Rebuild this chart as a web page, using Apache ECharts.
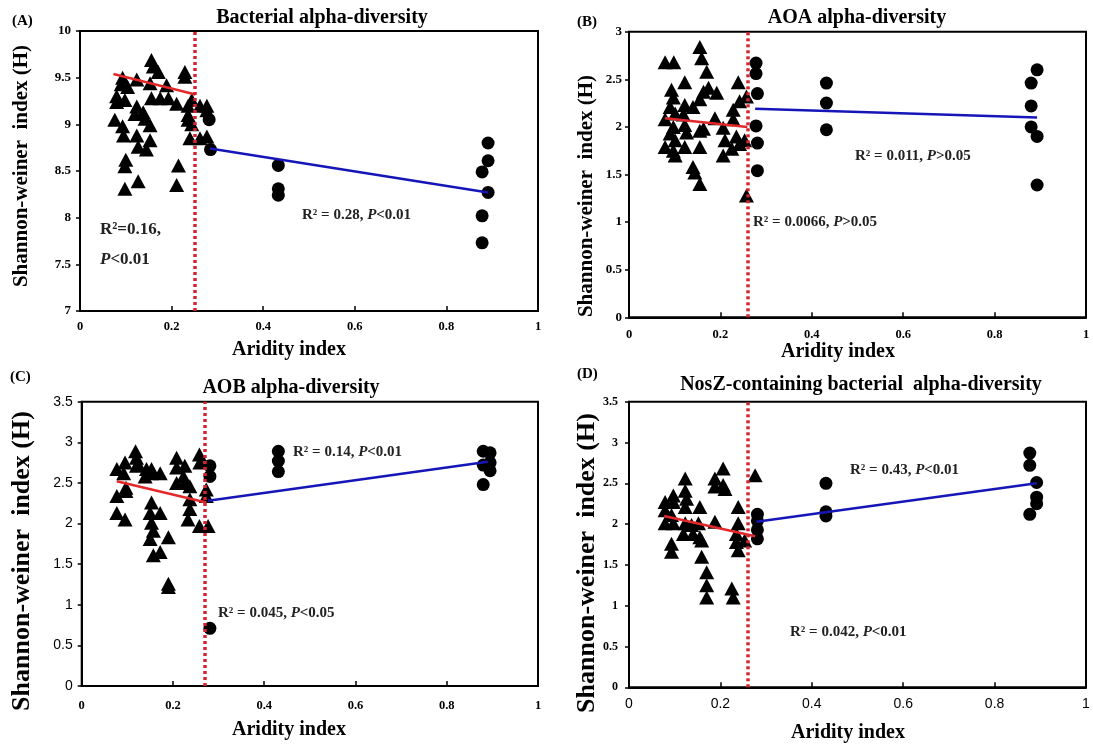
<!DOCTYPE html>
<html>
<head>
<meta charset="utf-8">
<script src="https://cdn.jsdelivr.net/npm/echarts@6/dist/echarts.min.js"></script>
<style>
html,body{margin:0;padding:0;background:#fff;}
#chart{width:1093px;height:749px;}
</style>
</head>
<body>
<div id="chart"></div>
<script>
// ---------- DATA ----------
const xTicks = ['0', '0.2', '0.4', '0.6', '0.8', '1'];
const panelLetters = ['(A)', '(B)', '(C)', '(D)'];
const panelTitles = ['Bacterial alpha-diversity', 'AOA alpha-diversity', 'AOB alpha-diversity', 'NosZ-containing bacterial  alpha-diversity'];
const yAxisTitle = 'Shannon-weiner  index (H)';
const xAxisTitle = 'Aridity index';
const yRanges = [[7, 10], [0, 3], [0, 3.5], [0, 3.5]];
const thresholds = [0.246, 0.261, 0.267, 0.259];

const aTriangles = [[0.080,9.30],[0.076,9.05],[0.090,9.43],[0.093,9.50],[0.098,9.26],[0.093,8.98],[0.095,8.88],[0.100,8.62],[0.098,8.55],[0.098,8.31],[0.124,9.48],[0.124,9.19],[0.120,9.11],[0.124,8.88],[0.127,8.76],[0.127,8.39],[0.138,9.13],[0.142,9.06],[0.145,8.73],[0.153,8.99],[0.153,8.83],[0.156,9.69],[0.160,9.62],[0.171,9.56],[0.153,9.44],[0.156,9.28],[0.175,9.28],[0.189,9.42],[0.193,9.28],[0.211,9.22],[0.215,8.56],[0.211,8.35],[0.229,9.56],[0.229,9.51],[0.236,9.20],[0.236,9.10],[0.236,9.05],[0.240,8.85],[0.244,9.26],[0.262,9.20],[0.277,9.20],[0.277,9.15],[0.262,8.85],[0.277,8.87],[0.244,9.00],[0.080,9.24],[0.104,9.40]];
const aCircles = [[0.282,9.05],[0.285,8.73],[0.433,8.56],[0.433,8.31],[0.433,8.24],[0.891,8.80],[0.891,8.61],[0.878,8.49],[0.891,8.27],[0.878,8.02],[0.878,7.73]];
const aRedFit = [[0.073,9.54],[0.252,9.32]];
const aBlueFit = [[0.284,8.74],[0.891,8.27]];

const bTriangles = [[0.079,2.68],[0.098,2.68],[0.093,2.39],[0.097,2.31],[0.090,2.21],[0.101,2.14],[0.079,2.08],[0.097,2.00],[0.090,1.93],[0.101,1.86],[0.079,1.79],[0.097,1.75],[0.101,1.70],[0.122,2.47],[0.122,2.23],[0.119,2.13],[0.122,2.02],[0.126,1.94],[0.122,1.79],[0.140,2.21],[0.140,1.58],[0.144,1.52],[0.155,1.40],[0.155,2.84],[0.159,2.72],[0.155,2.29],[0.155,1.96],[0.155,1.79],[0.163,2.37],[0.170,2.58],[0.174,2.41],[0.163,1.98],[0.192,2.36],[0.188,2.09],[0.206,1.99],[0.210,1.86],[0.206,1.70],[0.228,2.18],[0.228,2.08],[0.225,1.77],[0.239,2.47],[0.242,2.27],[0.235,1.90],[0.242,1.82],[0.257,2.32],[0.257,1.28],[0.253,1.86]];
const bCircles = [[0.278,2.67],[0.278,2.56],[0.281,2.35],[0.278,2.01],[0.281,1.83],[0.281,1.54],[0.432,2.46],[0.432,2.25],[0.432,1.97],[0.893,2.60],[0.880,2.46],[0.880,2.22],[0.880,2.00],[0.893,1.90],[0.893,1.39]];
const bRedFit = [[0.079,2.09],[0.259,2.00]];
const bBlueFit = [[0.276,2.19],[0.893,2.10]];

const cTriangles = [[0.077,2.67],[0.077,2.34],[0.077,2.13],[0.095,2.75],[0.092,2.62],[0.097,2.44],[0.095,2.05],[0.097,2.40],[0.118,2.89],[0.120,2.81],[0.124,2.73],[0.120,2.71],[0.142,2.67],[0.139,2.58],[0.153,2.67],[0.153,2.62],[0.172,2.62],[0.153,2.26],[0.150,2.13],[0.153,2.01],[0.157,1.91],[0.150,1.81],[0.157,1.61],[0.172,2.13],[0.172,1.65],[0.190,1.83],[0.190,1.26],[0.190,1.22],[0.208,2.81],[0.208,2.69],[0.208,2.50],[0.226,2.71],[0.223,2.58],[0.226,2.50],[0.237,2.46],[0.237,2.30],[0.237,2.18],[0.233,2.05],[0.258,2.85],[0.259,2.75],[0.258,1.97],[0.277,1.97],[0.273,2.42],[0.273,2.34]];
const cCircles = [[0.281,2.71],[0.281,2.58],[0.281,0.71],[0.431,2.89],[0.431,2.77],[0.431,2.64],[0.880,2.89],[0.895,2.87],[0.880,2.72],[0.895,2.75],[0.895,2.65],[0.880,2.48]];
const cRedFit = [[0.077,2.52],[0.273,2.26]];
const cBlueFit = [[0.277,2.28],[0.890,2.76]];

const dTriangles = [[0.079,2.27],[0.079,2.17],[0.079,2.01],[0.097,2.35],[0.097,2.27],[0.093,2.11],[0.097,2.01],[0.093,1.76],[0.093,1.66],[0.123,2.56],[0.123,2.41],[0.126,2.31],[0.123,2.21],[0.123,2.01],[0.119,1.88],[0.137,1.99],[0.140,1.88],[0.155,2.21],[0.152,2.01],[0.155,1.84],[0.159,1.80],[0.159,1.60],[0.170,1.41],[0.170,1.25],[0.170,1.10],[0.188,2.56],[0.188,2.46],[0.188,2.03],[0.206,2.68],[0.206,2.48],[0.210,2.43],[0.225,1.21],[0.228,1.10],[0.239,2.21],[0.239,2.01],[0.235,1.88],[0.235,1.78],[0.239,1.68],[0.253,1.80],[0.276,2.60]];
const dCircles = [[0.281,2.12],[0.281,2.04],[0.281,1.93],[0.281,1.82],[0.431,2.50],[0.431,2.15],[0.431,2.10],[0.877,2.87],[0.877,2.72],[0.892,2.51],[0.892,2.33],[0.892,2.25],[0.877,2.12]];
const dRedFit = [[0.077,2.10],[0.276,1.85]];
const dBlueFit = [[0.279,2.03],[0.892,2.50]];

const triangles = [aTriangles, bTriangles, cTriangles, dTriangles];
const circles = [aCircles, bCircles, cCircles, dCircles];
const redFits = [aRedFit, bRedFit, cRedFit, dRedFit];
const blueFits = [aBlueFit, bBlueFit, cBlueFit, dBlueFit];

// annotation texts: [prefix, italic P, suffix]
const annotations = [
  [['R²=0.16,', null, ''], ['', 'P', '<0.01'], ['R² = 0.28, ', 'P', '<0.01']],
  [['R² = 0.011, ', 'P', '>0.05'], ['R² = 0.0066, ', 'P', '>0.05']],
  [['R² = 0.14, ', 'P', '<0.01'], ['R² = 0.045, ', 'P', '<0.05']],
  [['R² = 0.43, ', 'P', '<0.01'], ['R² = 0.042, ', 'P', '<0.01']]
];

// ---------- LAYOUT / STYLE ----------
const SERIF = '"Liberation Serif", "Times New Roman", serif';
const SANS = '"Liberation Sans", Arial, sans-serif';
const grids = [
  {left: 80, top: 31, width: 458, height: 280},
  {left: 629, top: 31.7, width: 457, height: 285.6},
  {left: 81.7, top: 401.7, width: 456.3, height: 284.3},
  {left: 629, top: 401.7, width: 457, height: 285.6}
];
const yLabelStyle = [
  {fontFamily: SERIF, fontWeight: 'bold', fontSize: 13, margin: 9},
  {fontFamily: SERIF, fontWeight: 'bold', fontSize: 13, margin: 7},
  {fontFamily: SANS, fontWeight: 'normal', fontSize: 14, margin: 9},
  {fontFamily: SERIF, fontWeight: 'bold', fontSize: 12, margin: 11}
];
const xLabelStyle = [
  {fontFamily: SERIF, fontWeight: 'bold', fontSize: 12.5, margin: 9},
  {fontFamily: SERIF, fontWeight: 'bold', fontSize: 12.5, margin: 11},
  {fontFamily: SERIF, fontWeight: 'bold', fontSize: 12.5, margin: 13},
  {fontFamily: SANS, fontWeight: 'normal', fontSize: 14, margin: 10}
];
const titlePos = [[322, 18], [857, 18], [291, 388], [861, 385]];
const letterPos = [[12, 21], [577, 22], [10, 377], [577, 374]];
const yNamePos = [[22, 166, 21], [587, 196, 21], [22, 561, 26], [587, 563, 26]];
const xNamePos = [[289, 350], [838, 352], [289, 730], [848, 733]];
const annoPos = [
  [[100, 230, 17], [100, 260, 17], [302, 215, 15]],
  [[855, 156, 15], [753, 222, 15]],
  [[293, 452, 15], [218, 613, 15]],
  [[850, 470, 15], [790, 632, 15]]
];

const RED = '#e3282c';
const BLUE = '#1616b8';
const DOT_RED = '#d8232e';

const option = {
  animation: false,
  backgroundColor: '#fff',
  grid: [], xAxis: [], yAxis: [], series: [], graphic: []
};

for (let i = 0; i < 4; i++) {
  option.grid.push(Object.assign({show: true, borderColor: '#000', borderWidth: 2, backgroundColor: '#fff', containLabel: false}, grids[i]));
  option.xAxis.push({
    gridIndex: i, type: 'value', min: 0, max: 1, interval: 0.2,
    axisLine: {show: true, onZero: false, lineStyle: {color: '#000', width: 2}},
    axisTick: {show: true, inside: true, length: 5, lineStyle: {color: '#000', width: 1.5}},
    splitLine: {show: false},
    axisLabel: Object.assign({color: '#000', formatter: v => xTicks[Math.round(v / 0.2)] }, xLabelStyle[i])
  });
  option.yAxis.push({
    gridIndex: i, type: 'value', min: yRanges[i][0], max: yRanges[i][1], interval: 0.5,
    axisLine: {show: true, onZero: false, lineStyle: {color: '#000', width: 2}},
    axisTick: {show: true, inside: false, length: 4, lineStyle: {color: '#000', width: 1.5}},
    splitLine: {show: false},
    axisLabel: Object.assign({color: '#000'}, yLabelStyle[i])
  });
  option.series.push({
    type: 'scatter', xAxisIndex: i, yAxisIndex: i, symbol: 'triangle', symbolSize: [15, 14],
    itemStyle: {color: '#000', opacity: 1}, data: triangles[i], z: 2, silent: true
  });
  option.series.push({
    type: 'scatter', xAxisIndex: i, yAxisIndex: i, symbol: 'circle', symbolSize: 13,
    itemStyle: {color: '#000', opacity: 1}, data: circles[i], z: 2, silent: true
  });
  option.series.push({
    type: 'line', xAxisIndex: i, yAxisIndex: i, data: redFits[i], showSymbol: false,
    lineStyle: {color: RED, width: 2.5}, z: 3, silent: true
  });
  option.series.push({
    type: 'line', xAxisIndex: i, yAxisIndex: i, data: blueFits[i], showSymbol: false,
    lineStyle: {color: BLUE, width: 2.5}, z: 3, silent: true,
    markLine: {
      silent: true, symbol: 'none', label: {show: false}, animation: false,
      lineStyle: {color: DOT_RED, type: [3, 3], width: 3.5},
      data: [{xAxis: thresholds[i]}], z: 5
    }
  });

  // texts
  option.graphic.push({type: 'text', x: titlePos[i][0], y: titlePos[i][1], style: {
    text: panelTitles[i], font: 'bold 20px ' + SERIF, fill: '#000', textAlign: 'center', textVerticalAlign: 'middle'}});
  option.graphic.push({type: 'text', x: letterPos[i][0], y: letterPos[i][1], style: {
    text: panelLetters[i], font: 'bold 15px ' + SERIF, fill: '#000', textAlign: 'left', textVerticalAlign: 'middle'}});
  option.graphic.push({type: 'text', x: yNamePos[i][0], y: yNamePos[i][1], rotation: Math.PI / 2, style: {
    text: yAxisTitle, font: 'bold ' + yNamePos[i][2] + 'px ' + SERIF, fill: '#000', textAlign: 'center', textVerticalAlign: 'middle'}});
  option.graphic.push({type: 'text', x: xNamePos[i][0], y: xNamePos[i][1], style: {
    text: xAxisTitle, font: 'bold 20px ' + SERIF, fill: '#000', textAlign: 'center', textVerticalAlign: 'middle'}});

  annotations[i].forEach((a, k) => {
    const p = annoPos[i][k];
    const fs = p[2];
    let txt = '';
    if (a[0]) txt += '{n|' + a[0] + '}';
    if (a[1]) txt += '{it|' + a[1] + '}';
    if (a[2]) txt += '{n|' + a[2] + '}';
    option.graphic.push({type: 'text', x: p[0], y: p[1], z: 10, style: {
      text: txt, fill: '#222', textAlign: 'left', textVerticalAlign: 'middle',
      rich: {
        n: {fontFamily: SERIF, fontWeight: 'bold', fontSize: fs, fill: '#222', color: '#222'},
        it: {fontFamily: SERIF, fontWeight: 'bold', fontStyle: 'italic', fontSize: fs, fill: '#222', color: '#222'}
      }
    }});
  });
}

const chart = echarts.init(document.getElementById('chart'), null, {renderer: 'canvas'});
chart.setOption(option);
</script>
</body>
</html>
